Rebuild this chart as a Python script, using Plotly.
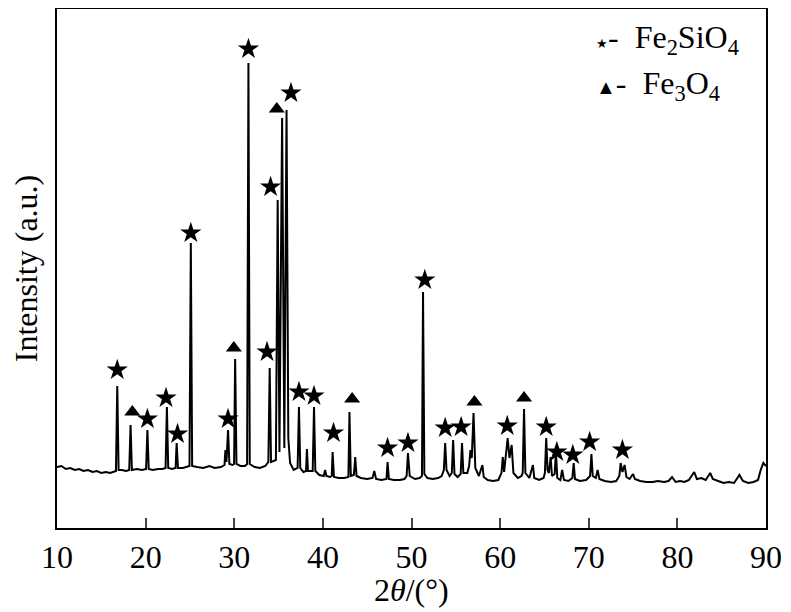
import plotly.graph_objects as go

# XRD pattern (intensity in arbitrary units)
two_theta = [
    10.0, 10.5, 11.0, 11.5, 12.0, 12.5, 13.0, 13.5, 14.0, 14.5, 15.0, 15.5, 16.0, 16.5,
    16.65, 16.8, 16.95, 17.3, 17.8, 18.15, 18.3, 18.45, 19.0, 19.6,
    20.05, 20.2, 20.35, 20.8, 21.4, 21.9, 22.25, 22.4, 22.55, 23.0,
    23.38, 23.5, 23.65, 24.2, 24.8, 24.95, 25.1, 25.25, 25.8, 26.5, 27.2, 27.8, 28.5,
    28.9, 29.0, 29.12, 29.3, 29.45, 29.8, 29.98, 30.1, 30.25, 30.7, 31.2,
    31.45, 31.6, 31.75, 32.3, 32.9, 33.5, 33.85, 34.0, 34.15,
    34.7, 34.9, 35.1, 35.4, 35.65, 35.9, 36.1, 36.3, 36.7,
    37.15, 37.3, 37.45, 37.8, 38.1, 38.2, 38.32, 38.85, 39.0, 39.15,
    39.6, 40.1, 40.25, 40.4, 40.8, 41.0, 41.1, 41.25, 41.8, 42.4,
    42.88, 43.0, 43.15, 43.5, 43.65, 43.8, 44.3, 45.0, 45.6, 45.8, 46.0, 46.6,
    47.18, 47.3, 47.45, 48.0, 48.7, 49.2, 49.45, 49.6, 49.8, 50.4, 50.9,
    51.18, 51.3, 51.45, 51.8, 52.4, 53.0, 53.4, 53.65, 53.8, 53.95, 54.3,
    54.55, 54.7, 54.85, 55.2, 55.55, 55.7, 55.85, 56.3,
    56.5, 56.65, 56.8, 57.0, 57.2, 57.6, 58.0, 58.15, 58.6, 59.2, 59.8,
    60.15, 60.3, 60.45, 60.85, 61.05, 61.3, 61.5, 62.0, 62.4,
    62.55, 62.7, 62.85, 63.3, 63.7, 63.85, 64.4, 64.9,
    65.05, 65.2, 65.35, 65.5, 65.7, 65.85, 66.15, 66.3, 66.45,
    66.8, 67.0, 67.2, 67.7, 68.15, 68.3, 68.45, 69.0, 69.7,
    70.15, 70.3, 70.45, 70.8, 71.0, 71.2, 71.8, 72.5, 73.1,
    73.45, 73.6, 73.8, 74.05, 74.25, 74.6, 75.0, 75.2, 75.8, 76.5, 77.2, 77.8,
    78.5, 79.0, 79.4, 79.8, 80.3, 80.8, 81.3, 81.9, 82.2, 82.7, 83.2, 83.7, 84.0,
    84.6, 85.2, 85.8, 86.4, 87.0, 87.4, 88.0, 88.6, 89.1, 89.4, 89.7, 90.0,
]
intensity = [
    61, 62, 59, 60, 58, 59, 57, 58, 56, 57, 55, 56, 55, 56,
    57, 142, 58, 58, 57, 58, 103, 58, 59, 58,
    59, 98, 59, 58, 59, 59, 60, 121, 60, 59,
    60, 85, 60, 60, 61, 62, 285, 62, 61, 60, 62, 60, 61,
    63, 78, 66, 98, 64, 63, 64, 169, 64, 62, 62,
    64, 465, 64, 61, 60, 62, 66, 160, 66,
    68, 328, 76, 410, 80, 418, 90, 65, 58,
    60, 121, 60, 56, 57, 79, 57, 57, 121, 57,
    53, 52, 58, 52, 51, 52, 76, 51, 50, 50,
    51, 116, 52, 53, 71, 52, 50, 49, 50, 57, 49, 48,
    49, 66, 49, 48, 48, 49, 52, 75, 52, 49, 50,
    52, 236, 54, 50, 49, 50, 52, 58, 85, 58, 52,
    55, 88, 54, 51, 54, 85, 55, 55,
    62, 78, 70, 115, 60, 52, 63, 51, 48, 47, 48,
    55, 71, 56, 90, 70, 83, 55, 50, 52,
    55, 119, 55, 50, 63, 50, 48, 50,
    55, 90, 58, 55, 71, 52, 54, 76, 50,
    48, 58, 48, 47, 50, 65, 49, 47, 48,
    52, 74, 52, 50, 58, 49, 47, 46, 47,
    52, 65, 56, 63, 51, 49, 54, 49, 47, 46, 46, 47,
    46, 47, 51, 46, 47, 46, 48, 56, 49, 50, 48, 55, 49,
    47, 45, 46, 45, 53, 47, 45, 46, 48, 58, 65, 62,
]

# phase markers: Fe2SiO4 (stars) and Fe3O4 (triangles)
star_theta = [16.8, 20.2, 22.3, 23.6, 25.1, 29.3, 31.6, 33.7, 34.1, 36.4, 37.3, 39.0,
              41.2, 47.3, 49.6, 51.5, 53.8, 55.6, 60.8, 65.2, 66.4, 68.2, 70.1, 73.8]
star_int = [158, 109, 130, 94, 295, 109, 479, 176, 341, 435, 136, 132,
            95, 80, 85, 248, 100, 101, 102, 101, 76, 73, 86, 78]
tri_theta = [18.5, 29.95, 34.8, 43.3, 57.1, 62.7]
tri_int = [116, 180, 419, 129, 126, 130]

FONT = "Liberation Serif"

fig = go.Figure()
fig.add_trace(go.Scatter(x=two_theta, y=intensity, mode="lines",
                         line=dict(color="black", width=2), showlegend=False))
fig.add_trace(go.Scatter(x=star_theta, y=star_int, mode="markers",
                         marker=dict(symbol="star", size=16, color="black"),
                         showlegend=False))
fig.add_trace(go.Scatter(x=tri_theta, y=tri_int, mode="markers",
                         marker=dict(symbol="triangle-up", size=14, color="black"),
                         showlegend=False))

# legend as text in the upper right corner
fig.add_annotation(xref="paper", yref="paper", x=0.757, y=0.942, xanchor="left", yanchor="middle",
                   text="<span style='font-size:13px'>★</span>-&nbsp;&nbsp;Fe<sub>2</sub>SiO<sub>4</sub>",
                   showarrow=False, font=dict(family=FONT, size=32, color="black"))
fig.add_annotation(xref="paper", yref="paper", x=0.757, y=0.852, xanchor="left", yanchor="middle",
                   text="<span style='font-size:20px'>▲</span>-&nbsp;&nbsp;Fe<sub>3</sub>O<sub>4</sub>",
                   showarrow=False, font=dict(family=FONT, size=32, color="black"))

# x axis title placed by hand a little lower than plotly puts it
fig.add_annotation(xref="paper", yref="paper", x=0.5, y=-0.119, xanchor="center", yanchor="middle",
                   text="2<i>θ</i>/(°)", showarrow=False,
                   font=dict(family=FONT, size=32, color="black"))

# the page body adds an 8 px margin, so the figure is shifted by it
fig.update_layout(
    width=775, height=604,
    margin=dict(l=49, r=17, t=1, b=84),
    plot_bgcolor="white", paper_bgcolor="white",
    font=dict(family=FONT, size=32, color="black"),
)
fig.update_xaxes(
    range=[10, 90], dtick=10, ticks="inside", ticklen=10, tickwidth=2,
    showline=True, linewidth=2, linecolor="black", mirror=True, showgrid=False, zeroline=False,
    tickfont=dict(size=32), automargin=False,
)
fig.update_yaxes(
    range=[0, 519], showticklabels=False, ticks="",
    showline=True, linewidth=2, linecolor="black", mirror=True, showgrid=False, zeroline=False,
    title=dict(text="Intensity (a.u.)", standoff=8, font=dict(size=32)),
    automargin=False,
)

fig.write_html("out.html")
